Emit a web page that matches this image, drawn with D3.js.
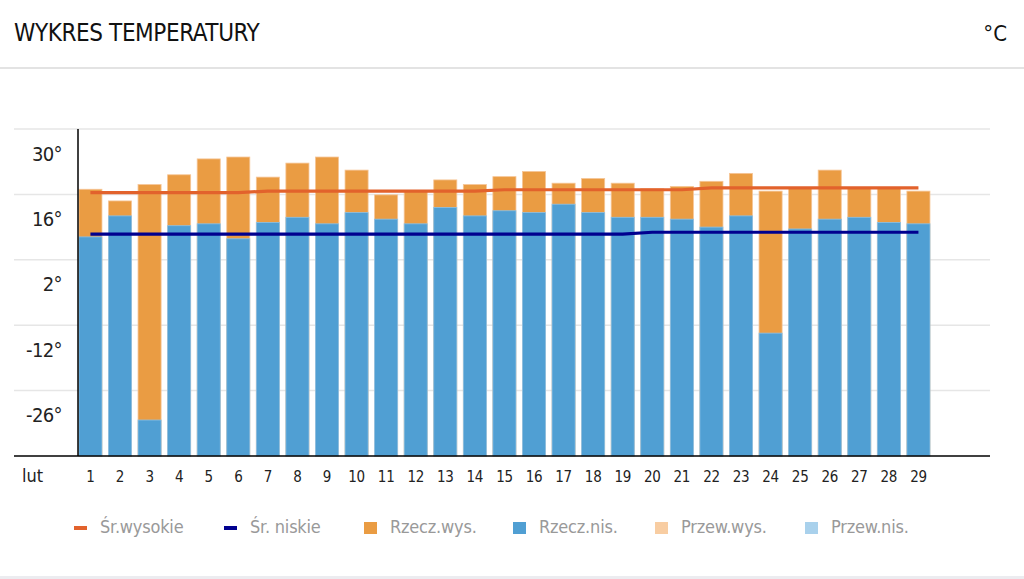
<!DOCTYPE html>
<html>
<head>
<meta charset="utf-8">
<script src="https://cdn.jsdelivr.net/npm/d3@7"></script>
<style>
  body { margin:0; background:#fff; }
  svg { display:block; font-family:"Liberation Sans Narrow","DejaVu Sans Condensed","Roboto",sans-serif; }
</style>
</head>
<body>
<div id="plot"></div>
<script>
// data
var days = d3.range(1, 30);            // 1..29 lutego
var monthLabel = 'lut';
var highs = [17.1,14.6,18.1,20.2,23.6,24.0,19.7,22.7,24.0,21.2,15.9,16.7,19.1,18.1,19.8,
             20.9,18.4,19.4,18.4,17.2,17.7,18.8,20.5,16.7,17.4,21.2,17.4,17.4,16.7];
var lows  = [6.9,11.4,-32.3,9.3,9.7,6.5,10.0,11.1,9.7,12.1,10.7,9.7,13.2,11.4,12.5,
             12.1,13.9,12.1,11.1,11.1,10.7,9.0,11.4,-13.7,8.6,10.7,11.1,10.0,9.7];
var avgHigh = [16.4,16.4,16.4,16.4,16.4,16.4,16.7,16.7,16.7,16.7,16.7,16.7,16.7,16.7,17.0,
               17.0,17.0,17.0,17.0,17.0,17.0,17.4,17.4,17.4,17.4,17.4,17.4,17.4,17.4];
var avgLow  = [7.5,7.5,7.5,7.5,7.5,7.5,7.5,7.5,7.5,7.5,7.5,7.5,7.5,7.5,7.5,
               7.5,7.5,7.5,7.5,7.9,7.9,7.9,7.9,7.9,7.9,7.9,7.9,7.9,7.9];
var yTicks = [30, 16, 2, -12, -26];
var yDomain = [-40, 30];
var slotCount = 31;   // the axis is laid out for a full month

var legendItems = [
  {label:'Śr.wysokie', color:'#e2622c', kind:'line'},
  {label:'Śr. niskie', color:'#00008f', kind:'line'},
  {label:'Rzecz.wys.', color:'#ea9c43', kind:'box'},
  {label:'Rzecz.nis.', color:'#509fd3', kind:'box'},
  {label:'Przew.wys.', color:'#f8cda2', kind:'box'},
  {label:'Przew.nis.', color:'#a9d1ec', kind:'box'}
];

var W = 1024, H = 579;
var svg = d3.select('#plot').append('svg').attr('width', W).attr('height', H);

// header
svg.append('text').attr('x', 14).attr('y', 41)
  .attr('font-size', 24).attr('letter-spacing', -0.4).attr('fill', '#111').text('WYKRES TEMPERATURY');
svg.append('text').attr('x', 1007).attr('y', 41).attr('text-anchor', 'end')
  .attr('font-size', 22).attr('fill', '#111').text('°C');
svg.append('rect').attr('x', 0).attr('y', 67).attr('width', W).attr('height', 2).attr('fill', '#e3e3e3');
svg.append('rect').attr('x', 0).attr('y', 576).attr('width', W).attr('height', 3).attr('fill', '#ececf0');

// scales
var plotL = 78, plotR = 990, plotT = 129, plotB = 456;
var y = d3.scaleLinear().domain(yDomain).range([plotB, plotT]);
var x = d3.scaleBand().domain(d3.range(1, slotCount + 1)).range([plotL, plotR])
  .paddingInner(0.22).paddingOuter(0.03);

// gridlines + y labels
var grid = svg.append('g');
grid.selectAll('line').data(yTicks).enter().append('line')
  .attr('x1', 14).attr('x2', plotR)
  .attr('y1', function(d){ return y(d); }).attr('y2', function(d){ return y(d); })
  .attr('stroke', '#e6e6e6').attr('stroke-width', 1.5);
grid.selectAll('text').data(yTicks).enter().append('text')
  .attr('x', 62).attr('y', function(d){ return y(d) + 26; })
  .attr('text-anchor', 'end').attr('dominant-baseline', 'middle')
  .attr('font-size', 20).attr('letter-spacing', -0.6).attr('fill', '#222')
  .text(function(d){ return d + '°'; });

// bars: high (orange) then low (blue) on top
var bars = svg.append('g');
bars.selectAll('.hi').data(days).enter().append('rect')
  .attr('class', 'hi')
  .attr('x', function(d){ return x(d); })
  .attr('width', x.bandwidth())
  .attr('y', function(d, i){ return y(highs[i]); })
  .attr('height', function(d, i){ return plotB - y(highs[i]); })
  .attr('fill', '#ea9c43').attr('stroke', '#f6c596').attr('stroke-width', 0.8);
bars.selectAll('.lo').data(days).enter().append('rect')
  .attr('class', 'lo')
  .attr('x', function(d){ return x(d); })
  .attr('width', x.bandwidth())
  .attr('y', function(d, i){ return y(lows[i]); })
  .attr('height', function(d, i){ return plotB - y(lows[i]); })
  .attr('fill', '#509fd3').attr('stroke', '#8cc1e6').attr('stroke-width', 0.8);

// average lines
var line = function(vals){
  return d3.line()
    .x(function(d){ return x(d) + x.bandwidth() / 2; })
    .y(function(d, i){ return y(vals[i]); })(days);
};
svg.append('path').attr('d', line(avgHigh)).attr('fill', 'none')
  .attr('stroke', '#e2622c').attr('stroke-width', 3.2);
svg.append('path').attr('d', line(avgLow)).attr('fill', 'none')
  .attr('stroke', '#00008f').attr('stroke-width', 3.2);

// axes
svg.append('line').attr('x1', plotL).attr('x2', plotL).attr('y1', plotT).attr('y2', plotB)
  .attr('stroke', '#000').attr('stroke-width', 1.5);
svg.append('line').attr('x1', 14).attr('x2', plotR).attr('y1', plotB).attr('y2', plotB)
  .attr('stroke', '#000').attr('stroke-width', 1.5);

// x labels
svg.append('text').attr('x', 22).attr('y', 477).attr('dominant-baseline', 'middle')
  .attr('font-size', 18).attr('fill', '#222').text(monthLabel);
svg.append('g').selectAll('text').data(days).enter().append('text')
  .attr('x', function(d){ return x(d) + x.bandwidth() / 2; })
  .attr('y', 477).attr('text-anchor', 'middle').attr('dominant-baseline', 'middle')
  .attr('font-size', 15).attr('letter-spacing', -0.3).attr('fill', '#222')
  .text(function(d){ return d; });

// legend
var legX = [74, 224, 364, 513, 655, 805];
var leg = svg.append('g').selectAll('g').data(legendItems).enter().append('g')
  .attr('transform', function(d, i){ return 'translate(' + legX[i] + ',528)'; });
leg.append('rect')
  .attr('x', 0)
  .attr('y', function(d){ return d.kind == 'line' ? -2 : -6; })
  .attr('width', 13)
  .attr('height', function(d){ return d.kind == 'line' ? 4 : 12; })
  .attr('fill', function(d){ return d.color; });
leg.append('text').attr('x', 26).attr('y', 0).attr('dominant-baseline', 'middle')
  .attr('font-size', 18).attr('letter-spacing', -0.2).attr('fill', '#999')
  .text(function(d){ return d.label; });
</script>
</body>
</html>
